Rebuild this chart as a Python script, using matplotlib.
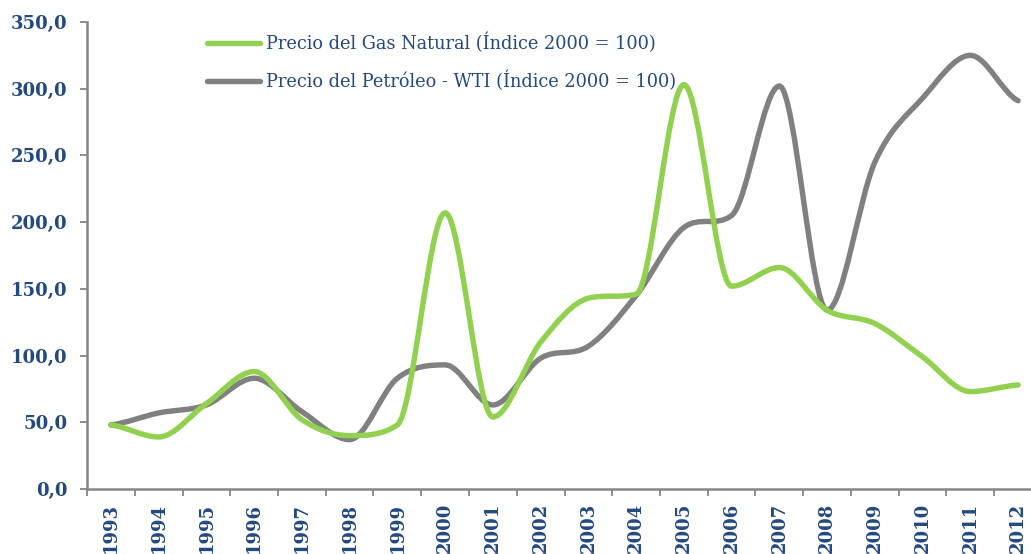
import matplotlib.pyplot as plt
from matplotlib.path import Path
from matplotlib.patches import PathPatch
from matplotlib.lines import Line2D
import numpy as np

years = [str(y) for y in range(1993, 2013)]
gas = [48, 39, 64, 88, 52, 40, 48, 207, 54, 110, 143, 146, 303, 152, 166, 134, 124, 99, 73, 78]
oil = [48, 57, 63, 83, 58, 37, 83, 93, 63, 98, 107, 145, 196, 205, 302, 134, 245, 293, 325, 291]

GREEN = '#92D050'
GREY = '#808080'
TXT = '#23497F'
AXC = '#868686'


def smooth_path(y):
    # smoothed line like Excel's, as cubic bezier through each point,
    # with tangents limited so it does not overshoot between points
    y = np.asarray(y, dtype=float)
    n = len(y)
    x = np.arange(n, dtype=float)
    d = np.diff(y)
    m = np.zeros(n)
    for i in range(1, n - 1):
        if d[i - 1] * d[i] > 0:
            t = (y[i + 1] - y[i - 1]) / 2
            lim = 3 * min(abs(d[i - 1]), abs(d[i]))
            m[i] = np.sign(t) * min(abs(t), lim)
    m[0] = d[0] / 2
    m[-1] = d[-1] / 2
    verts = [(x[0], y[0])]
    codes = [Path.MOVETO]
    for i in range(n - 1):
        verts += [(x[i] + 1 / 3, y[i] + m[i] / 3),
                  (x[i + 1] - 1 / 3, y[i + 1] - m[i + 1] / 3),
                  (x[i + 1], y[i + 1])]
        codes += [Path.CURVE4] * 3
    return Path(verts, codes)


fig = plt.figure(figsize=(10.31, 5.54), dpi=100)
ax = fig.add_axes([87 / 1031, 1 - 489 / 554, (1042 - 87) / 1031, (489 - 22) / 554])

ax.add_patch(PathPatch(smooth_path(gas), facecolor='none', edgecolor=GREEN,
                       lw=3.9, capstyle='round', joinstyle='round', zorder=3))
ax.add_patch(PathPatch(smooth_path(oil), facecolor='none', edgecolor=GREY,
                       lw=3.9, capstyle='round', joinstyle='round', zorder=2))

ax.set_xlim(-0.5, len(years) - 0.5)
ax.set_ylim(0, 350)
ax.set_yticks(np.arange(0, 351, 50))
ax.set_yticklabels([f'{v:.1f}'.replace('.', ',') for v in np.arange(0, 351, 50)])
ax.set_xticks(range(len(years)))
ax.set_xticklabels(years, rotation=90)
ax.set_xticks(np.arange(-0.5, len(years), 1), minor=True)

for s in ['top', 'right']:
    ax.spines[s].set_visible(False)
for s in ['left', 'bottom']:
    ax.spines[s].set_color(AXC)
    ax.spines[s].set_linewidth(1.8)

font = dict(family='DejaVu Serif', weight='bold', size=13)
ax.tick_params(axis='y', direction='out', length=5, width=1.3, color=AXC, pad=9,
               labelcolor=TXT)
ax.tick_params(axis='x', which='major', length=0, pad=10, labelcolor=TXT)
ax.tick_params(axis='x', which='minor', direction='out', length=5, width=1.3, color=AXC)
for lab in ax.get_xticklabels() + ax.get_yticklabels():
    lab.set_fontproperties(font)
    lab.set_color(TXT)

handles = [Line2D([], [], color=GREEN, lw=3.9, solid_capstyle='round'),
           Line2D([], [], color=GREY, lw=3.9, solid_capstyle='round')]
leg = fig.legend(handles, ['Precio del Gas Natural (Índice 2000 = 100)',
                           'Precio del Petróleo - WTI (Índice 2000 = 100)'],
                 loc='upper left', bbox_to_anchor=(207 / 1031, 1 - 33 / 554),
                 frameon=False, handlelength=3.0, handletextpad=0.3,
                 labelspacing=0.95, prop=dict(family='DejaVu Serif', size=12.8),
                 borderaxespad=0, borderpad=0)
for t in leg.get_texts():
    t.set_color(TXT)

fig.savefig('out.png', dpi=100)
